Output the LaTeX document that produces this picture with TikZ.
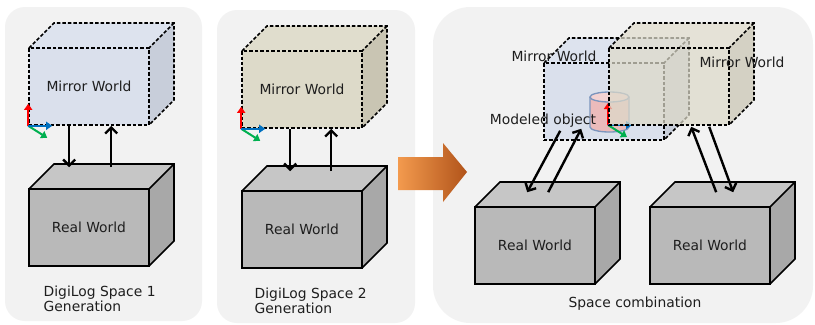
\documentclass[tikz,border=0pt]{standalone}
\usepackage{fontspec}
\setmainfont{DejaVu Sans}
\usetikzlibrary{arrows.meta,calc}

\definecolor{panel}{HTML}{F2F2F2}
\definecolor{ink}{HTML}{1E1E1E}
\definecolor{bluefront}{HTML}{DAE0EC}
\definecolor{bluetop}{HTML}{DDE3EE}
\definecolor{blueside}{HTML}{C8CEDA}
\definecolor{beigefront}{HTML}{DDDAC9}
\definecolor{beigetop}{HTML}{E0DDCD}
\definecolor{beigeside}{HTML}{C9C5B3}
\definecolor{greyfront}{HTML}{B9B9B9}
\definecolor{greytop}{HTML}{C6C6C6}
\definecolor{greyside}{HTML}{A8A8A8}
\definecolor{cylfill}{HTML}{EBBBBB}
\definecolor{cyltop}{HTML}{F3D2D2}
\definecolor{cylline}{HTML}{7C95BD}
\definecolor{axred}{HTML}{FF0000}
\definecolor{axblue}{HTML}{0070C0}
\definecolor{axgreen}{HTML}{00B050}
\definecolor{arrowlight}{HTML}{F39A4E}
\definecolor{arrowdark}{HTML}{B1541A}

% box of 120 x 77 with depth 25: #1 name, #2 front top-left, #3 colour prefix, #4 edge style, #5 text
\newcommand\cuboid[5]{%
    \coordinate (#1-nw) at (#2);
    \fill[#3top, #4] (#1-nw) -- ++(25,-25) -- ++(120,0) -- ++(-25,25) -- cycle;
    \fill[#3side, #4] ($(#1-nw)+(120,0)$) -- ++(25,-25) -- ++(0,77) -- ++(-25,25) -- cycle;
    \draw[#4] (#1-nw) -- ++(25,-25) -- ++(120,0) coordinate (#1-bne) -- ++(0,77) -- ++(-25,25);
    \draw[#4] (#1-bne) -- ++(-25,25);
    \node[draw, #4, fill=#3front, minimum width=90pt, minimum height=57.75pt, inner sep=0pt] (#1) at ($(#1-nw)+(60,38.5)$) {#5};
}

% small frame axes at #1
\newcommand\triad[1]{%
    \draw[axis, axred] (#1) -- ++(0,-22);
    \draw[axis, axgreen] (#1) -- ++(19,12);
    \draw[axis, axblue] (#1) -- ++(24,0);
}

\begin{document}
\begin{tikzpicture}[x=0.75pt, y=-0.75pt,
        every node/.style={font=\fontsize{10.4}{12}\selectfont, text=ink},
        dashed edge/.style={line width=1.2pt, dash pattern=on 2.6pt off 1.5pt},
        faded/.style={dashed edge, fill opacity=0.72},
        solid edge/.style={line width=1.2pt},
        axis/.style={line width=1.5pt, -{Triangle[length=4.5pt, width=6pt]}},
        link/.style={line width=1.8pt, -{Straight Barb[length=4.5pt, width=9pt]}},
        panel caption/.style={align=left, anchor=north west, font=\fontsize{10.4}{11.5}\selectfont},
        cylinder edge/.style={draw=cylline, line width=1pt}]
    \useasboundingbox[fill=white] (0,0) rectangle (815,325);
    \fill[panel, rounded corners=15pt] (5,7) rectangle (202,321);
    \fill[panel, rounded corners=15pt] (217,10) rectangle (415,323);
    \fill[panel, rounded corners=28pt] (433,7) rectangle (813,323);

    \cuboid{mw1}{29,48}{blue}{dashed edge}{Mirror World}
    \triad{mw1.south west}
    \cuboid{rw1}{29,189}{grey}{solid edge}{Real World}
    \draw[link] ($(mw1.south west)+(41,0)$) -- ($(rw1.north west)+(41,-21)$);
    \draw[link] ($(rw1.north west)+(83,-21)$) -- ($(mw1.south west)+(83,0)$);
    \node[panel caption] (cap1) at (39,281) {DigiLog Space 1\\Generation};

    \cuboid{mw2}{242,51}{beige}{dashed edge}{Mirror World}
    \triad{mw2.south west}
    \cuboid{rw2}{242,191}{grey}{solid edge}{Real World}
    \draw[link] ($(mw2.south west)+(49,0)$) -- ($(rw2.north west)+(49,-19)$);
    \draw[link] ($(rw2.north west)+(90,-19)$) -- ($(mw2.south west)+(90,0)$);
    \node[panel caption] (cap2) at (250,283) {DigiLog Space 2\\Generation};

    \shade[left color=arrowlight, right color=arrowdark] (398,157) -- (443,157) -- (443,143) -- (467,172) -- (443,202) -- (443,190) -- (398,190) -- cycle;

    \cuboid{mw3}{544,63}{blue}{dashed edge}{}
    \fill[cylfill] (590,97) -- (590,127) arc[start angle=180, end angle=0, x radius=19.5, y radius=5] -- (629,97) -- cycle;
    \draw[cylinder edge] (590,97) -- (590,127) arc[start angle=180, end angle=0, x radius=19.5, y radius=5] -- (629,97);
    \draw[cylinder edge, fill=cyltop] (609.5,97) ellipse[x radius=19.5, y radius=5];
    \coordinate (obj) at (608,125);
    \triad{obj}
    \node[anchor=base] (objlabel) at (543,124) {Modeled object};
    \cuboid{mw4}{609,48}{beige}{faded}{}
    \node[anchor=base] (mwlabel3) at (554,61) {Mirror World};
    \node[anchor=base] (mwlabel4) at (742,67) {Mirror World};

    \cuboid{rw3}{475,207}{grey}{solid edge}{Real World}
    \cuboid{rw4}{650,207}{grey}{solid edge}{Real World}
    \draw[link] ($(mw3.south west)+(17,-10)$) -- ($(rw3.north west)+(53,-14)$);
    \draw[link] ($(rw3.north west)+(74,-14)$) -- ($(mw3.south west)+(38,-12)$);
    \draw[link] ($(rw4.north west)+(67,-14)$) -- ($(mw4.south west)+(83,1)$);
    \draw[link] ($(mw4.south west)+(101,1)$) -- ($(rw4.north west)+(84,-14)$);
    \node[anchor=base] (cap3) at (635,307) {Space combination};
\end{tikzpicture}
\end{document}
